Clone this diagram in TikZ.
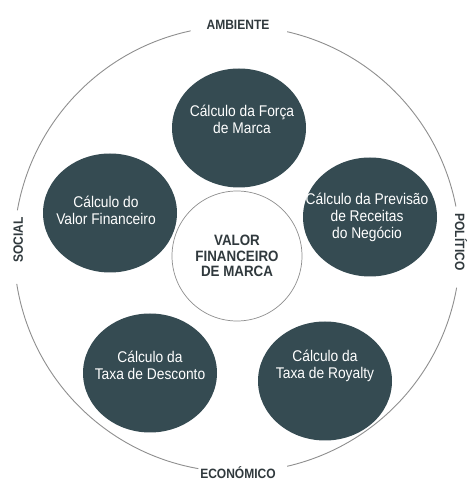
\documentclass[tikz,border=0pt]{standalone}
\usepackage{fontspec}
\setmainfont{Liberation Sans}[FakeStretch=0.89]
\usetikzlibrary{shapes.geometric}

\definecolor{ardosia}{HTML}{354B52}
\definecolor{cinza}{HTML}{8E8E8E}
\definecolor{escuro}{HTML}{30393D}

\tikzset{
  bola/.style={ellipse, fill=ardosia, inner sep=0pt, minimum width=134pt, minimum height=119pt},
  texto/.style={text=white, align=center, font=\fontsize{15.5}{17}\selectfont},
  eixo/.style={text=escuro, inner sep=0pt, font=\bfseries\fontsize{13.5}{15}\selectfont},
  arco/.style={cinza, line width=0.9pt}
}

\begin{document}
\begin{tikzpicture}[x=1pt, y=1pt]
    \useasboundingbox (0,0) rectangle (469,482);

    % Centro do anel
    \coordinate (O) at (237,233);

    % Anel externo em quatro arcos
    \foreach \a/\b in {11/77, 102/170, 189/260, 283/350}
        \draw[arco] ([shift={(\a:223)}]O) arc[start angle=\a, end angle=\b, radius=223];

    % Rótulos do anel
    \node[eixo, anchor=base] (ambiente) at (238,452) {AMBIENTE};
    \node[eixo, anchor=base] (economico) at (238,3.5) {ECONÓMICO};
    \node[eixo, anchor=base, rotate=90] (social) at (23,242) {SOCIAL};
    \node[eixo, anchor=base, rotate=-90] (politico) at (455,240) {POLÍTICO};

    % Círculos escuros
    \node[bola] (forca) at (239,354) {};
    \node[bola] (valor) at (110,269) {};
    \node[bola] (previsao) at (370,265) {};
    \node[bola] (desconto) at (150,109) {};
    \node[bola] (royalty) at (325,101) {};

    % Textos dos círculos
    \node[texto] (forcatxt) at (242,363) {Cálculo da Força\\de Marca};
    \node[texto] (valortxt) at (106,272) {Cálculo do\\Valor Financeiro};
    \node[texto] (previsaotxt) at (367,265) {Cálculo da Previsão\\de Receitas\\do Negócio};
    \node[texto] (descontotxt) at (150,117) {Cálculo da\\Taxa de Desconto};
    \node[texto] (royaltytxt) at (325,116) {Cálculo da\\Taxa de Royalty};

    % Círculo central
    \node[circle, draw=cinza, line width=0.7pt, fill=white, minimum size=130pt, inner sep=0pt,
          text=escuro, align=center, font=\bfseries\fontsize{15}{15.5}\selectfont]
        (central) at (237,226) {VALOR\\FINANCEIRO\\DE MARCA};

\end{tikzpicture}
\end{document}
